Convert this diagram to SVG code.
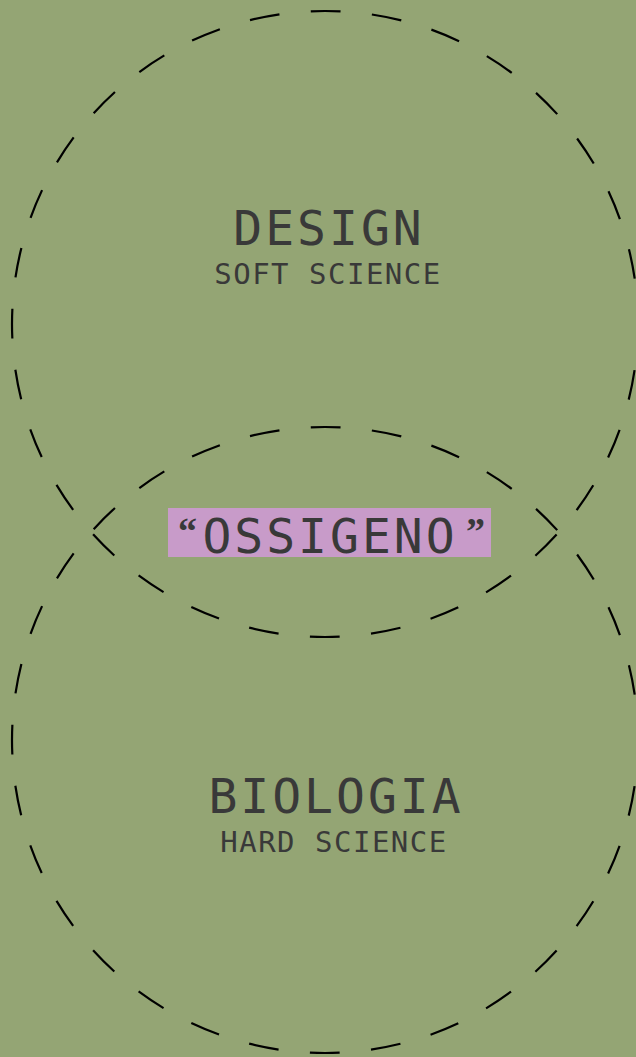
<svg xmlns="http://www.w3.org/2000/svg" width="636" height="1057" viewBox="0 0 636 1057">
<style>
.c{fill:none;stroke:#000;stroke-width:2.2;stroke-dasharray:30 31.46;stroke-dashoffset:15}
.t{font-family:"DejaVu Sans Mono","Liberation Mono",monospace;fill:#393939;text-anchor:middle}
.big{font-size:48px;letter-spacing:3px}
.small{font-size:29px;letter-spacing:1.5px}
.q{font-family:"Liberation Serif",serif;font-weight:bold;font-size:38px;fill:#393939}
</style>
<rect width="636" height="1057" fill="#94a574"/>
<g id="connectors">
<circle class="c" cx="325" cy="324" r="313"/>
<circle class="c" cx="325" cy="740" r="313"/>
</g>
<g id="design">
<text class="t big" x="329" y="245">DESIGN</text>
<text class="t small" x="328" y="284">SOFT SCIENCE</text>
</g>
<g id="ossigeno">
<rect x="168" y="508" width="323" height="49" fill="#c89bc9"/>
<text class="q" x="178" y="544">“</text>
<text class="t big" x="330" y="553">OSSIGENO</text>
<text class="q" x="466" y="544">”</text>
</g>
<g id="biologia">
<text class="t big" x="336" y="813">BIOLOGIA</text>
<text class="t small" x="334" y="852">HARD SCIENCE</text>
</g>
</svg>
